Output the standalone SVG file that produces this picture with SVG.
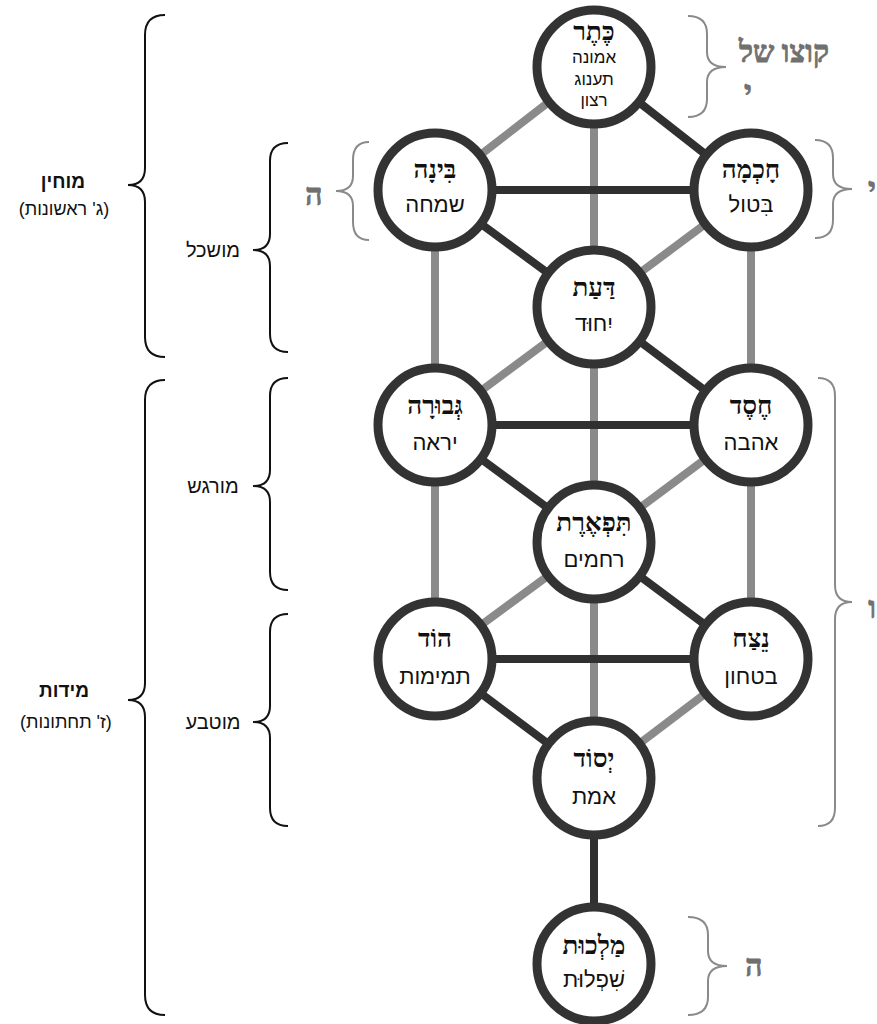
<svg xmlns="http://www.w3.org/2000/svg" width="877" height="1024" viewBox="0 0 877 1024">
<style>
.dk{stroke:#303030;stroke-width:8;stroke-linecap:butt}
.gr{stroke:#8a8a8a;stroke-width:8;stroke-linecap:butt}
.node circle{fill:#fff;stroke:#333;stroke-width:9}
.nm{font-family:"Liberation Serif","DejaVu Serif",serif;font-weight:bold;font-size:26px;fill:#111;text-anchor:middle;direction:rtl}
.sb{font-family:"Liberation Sans","DejaVu Sans",sans-serif;font-size:22px;fill:#111;text-anchor:middle;direction:rtl}
.ks{font-family:"Liberation Sans","DejaVu Sans",sans-serif;font-size:17px;fill:#111;text-anchor:middle;direction:rtl}
.bk{fill:none;stroke:#111;stroke-width:2}
.bg{fill:none;stroke:#8a8a8a;stroke-width:2}
.gl{font-family:"Liberation Serif","DejaVu Serif",serif;font-weight:bold;font-size:30px;fill:#707070;stroke:#707070;stroke-width:0.8;text-anchor:middle;direction:rtl}
.lb{font-family:"Liberation Sans","DejaVu Sans",sans-serif;font-size:20px;fill:#111;text-anchor:middle;direction:rtl}
.lt{font-family:"Liberation Sans","DejaVu Sans",sans-serif;font-size:19px;font-weight:bold;fill:#111;text-anchor:middle;direction:rtl}
.ls{font-family:"Liberation Sans","DejaVu Sans",sans-serif;font-size:18px;fill:#111;text-anchor:middle;direction:rtl}
</style>
<g id="connectors">
<g id="gray-lines">
<line class="gr" x1="594" y1="67" x2="435" y2="190"/>
<line class="gr" x1="594" y1="67" x2="594" y2="778"/>
<line class="gr" x1="751" y1="190" x2="594" y2="307"/>
<line class="gr" x1="435" y1="190" x2="435" y2="425"/>
<line class="gr" x1="751" y1="190" x2="751" y2="425"/>
<line class="gr" x1="594" y1="307" x2="435" y2="425"/>
<line class="gr" x1="751" y1="425" x2="594" y2="542"/>
<line class="gr" x1="435" y1="425" x2="435" y2="659"/>
<line class="gr" x1="751" y1="425" x2="751" y2="659"/>
<line class="gr" x1="594" y1="542" x2="435" y2="659"/>
<line class="gr" x1="751" y1="659" x2="594" y2="778"/>
</g>
<g id="dark-lines">
<line class="dk" x1="594" y1="67" x2="751" y2="190"/>
<line class="dk" x1="435" y1="190" x2="751" y2="190"/>
<line class="dk" x1="435" y1="190" x2="594" y2="307"/>
<line class="dk" x1="594" y1="307" x2="751" y2="425"/>
<line class="dk" x1="435" y1="425" x2="751" y2="425"/>
<line class="dk" x1="435" y1="425" x2="594" y2="542"/>
<line class="dk" x1="594" y1="542" x2="751" y2="659"/>
<line class="dk" x1="435" y1="659" x2="751" y2="659"/>
<line class="dk" x1="435" y1="659" x2="594" y2="778"/>
<line class="dk" x1="594" y1="778" x2="594" y2="964"/>
</g>
</g>
<g id="keter" class="node"><circle cx="594" cy="67" r="57"/>
<text class="nm" x="594" y="40">כֶּתֶר</text>
<text class="ks" x="594" y="63">אמונה</text>
<text class="ks" x="594" y="85">תענוג</text>
<text class="ks" x="594" y="106">רצון</text></g>
<g id="binah" class="node"><circle cx="435" cy="190" r="57"/>
<text class="nm" x="435" y="178">בִּינָה</text>
<text class="sb" x="435" y="212">שמחה</text></g>
<g id="chochmah" class="node"><circle cx="751" cy="190" r="57"/>
<text class="nm" x="751" y="178">חָכְמָה</text>
<text class="sb" x="751" y="212">בִּטול</text></g>
<g id="daat" class="node"><circle cx="594" cy="307" r="57"/>
<text class="nm" x="594" y="296">דַּעַת</text>
<text class="sb" x="594" y="331">יִחוּד</text></g>
<g id="gevurah" class="node"><circle cx="435" cy="425" r="57"/>
<text class="nm" x="435" y="414">גְּבוּרָה</text>
<text class="sb" x="435" y="450">יראה</text></g>
<g id="chesed" class="node"><circle cx="751" cy="425" r="57"/>
<text class="nm" x="751" y="414">חֶסֶד</text>
<text class="sb" x="751" y="450">אהבה</text></g>
<g id="tiferet" class="node"><circle cx="594" cy="542" r="57"/>
<text class="nm" x="594" y="531">תִּפְאֶרֶת</text>
<text class="sb" x="594" y="567">רחמים</text></g>
<g id="hod" class="node"><circle cx="435" cy="659" r="57"/>
<text class="nm" x="435" y="647">הוֹד</text>
<text class="sb" x="435" y="684">תמימות</text></g>
<g id="netzach" class="node"><circle cx="751" cy="659" r="57"/>
<text class="nm" x="751" y="647">נֵצַח</text>
<text class="sb" x="751" y="684">בטחון</text></g>
<g id="yesod" class="node"><circle cx="594" cy="778" r="57"/>
<text class="nm" x="594" y="767">יְסוֹד</text>
<text class="sb" x="594" y="804">אמת</text></g>
<g id="malchut" class="node"><circle cx="594" cy="964" r="57"/>
<text class="nm" x="594" y="954">מַלְכוּת</text>
<text class="sb" x="594" y="987">שִׁפְלוּת</text></g>
<g id="left-braces">
<path class="bk" d="M165,15 Q145,15 145,35 L145,168 Q145,185 128,185 Q145,185 145,202 L145,337 Q145,357 165,357"/>
<text class="lt" x="63" y="188">מוחין</text>
<text class="ls" x="64" y="215">(ג' ראשונות)</text>
<path class="bk" d="M165,380 Q145,380 145,400 L145,683 Q145,700 128,700 Q145,700 145,717 L145,995 Q145,1015 165,1015"/>
<text class="lt" x="64" y="697">מידות</text>
<text class="ls" x="66" y="728">(ז' תחתונות)</text>
<path class="bk" d="M288,143 Q270,143 270,161 L270,234 Q270,250 253,250 Q270,250 270,266 L270,334 Q270,352 288,352"/>
<text class="lb" x="213" y="257">מושכל</text>
<path class="bk" d="M288,378 Q270,378 270,396 L270,470 Q270,486 253,486 Q270,486 270,502 L270,572 Q270,590 288,590"/>
<text class="lb" x="213" y="493">מורגש</text>
<path class="bk" d="M288,614 Q270,614 270,632 L270,706 Q270,722 253,722 Q270,722 270,738 L270,808 Q270,826 288,826"/>
<text class="lb" x="213" y="729">מוטבע</text>
</g>
<g id="gray-braces">
<path class="bg" d="M688,16 Q707,16 707,34 L707,52 Q707,67 726,67 Q707,67 707,82 L707,99 Q707,117 688,117"/>
<text class="gl" x="784" y="62">קוצו של</text>
<text class="gl" x="748" y="102">י</text>
<path class="bg" d="M369,142 Q353,142 353,160 L353,176 Q353,191 336,191 Q353,191 353,206 L353,222 Q353,240 369,240"/>
<text class="gl" x="314" y="205">ה</text>
<path class="bg" d="M815,140 Q833,140 833,158 L833,174 Q833,189 852,189 Q833,189 833,204 L833,220 Q833,238 815,238"/>
<text class="gl" x="872" y="199">י</text>
<path class="bg" d="M818,378 Q835,378 835,396 L835,585 Q835,602 852,602 Q835,602 835,619 L835,808 Q835,826 818,826"/>
<text class="gl" x="872" y="618">ו</text>
<path class="bg" d="M688,917 Q708,917 708,935 L708,951 Q708,966 727,966 Q708,966 708,981 L708,997 Q708,1015 688,1015"/>
<text class="gl" x="754" y="976">ה</text>
</g>
</svg>
